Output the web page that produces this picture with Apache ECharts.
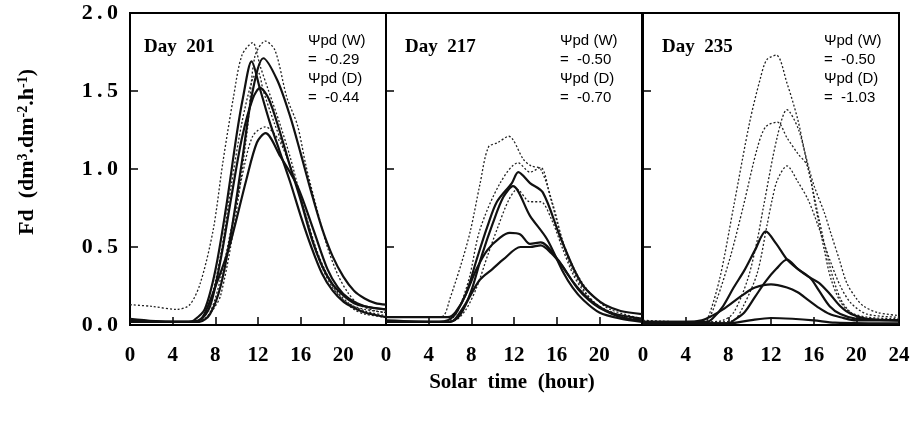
<!DOCTYPE html>
<html>
<head>
<meta charset="utf-8">
<script src="https://cdn.jsdelivr.net/npm/echarts@6/dist/echarts.min.js"></script>
<style>
  html, body { margin: 0; padding: 0; background: #fff; }
  #chart { width: 913px; height: 422px; }
</style>
</head>
<body>
<div id="chart"></div>
<script>
// tick labels
const hourTicks = [0, 4, 8, 12, 16, 20, 24]
const panelNames = ['Day  201', 'Day  217', 'Day  235']
const psiW = ['-0.29', '-0.50', '-0.50']
const psiD = ['-0.44', '-0.70', '-1.03']

// Day 201 : [hour, Fd]
const d201_w1 = [[0,0.13],[2,0.12],[4.4,0.10],[5.6,0.13],[6.6,0.27],[7.8,0.61],[8.7,1.04],[9.7,1.46],[10.5,1.73],[11.5,1.81],[12.2,1.66],[13,1.5],[14,1.3],[15,1.08],[16,0.82],[17,0.57],[18,0.37],[19,0.24],[20,0.16],[21,0.12],[22,0.1],[24,0.08]]
const d201_w2 = [[0,0.03],[4,0.02],[6,0.02],[7,0.04],[7.8,0.1],[8.5,0.19],[9.7,0.61],[11,1.25],[11.7,1.72],[12.7,1.82],[13.6,1.76],[14.7,1.46],[15.7,1.28],[16.5,1.02],[17.5,0.75],[18.5,0.5],[19.5,0.32],[20.5,0.2],[21.5,0.13],[23,0.09],[24,0.08]]
const d201_w3 = [[0,0.02],[5,0.02],[6.5,0.02],[7.5,0.08],[8.5,0.3],[9.5,0.62],[10.5,0.95],[11.5,1.21],[12.7,1.27],[14,1.18],[15,1.02],[16,0.82],[17,0.58],[18,0.38],[19,0.25],[20,0.16],[21,0.1],[22,0.07],[24,0.05]]
const d201_w4 = [[0,0.02],[5,0.02],[6.5,0.03],[7.5,0.15],[8.5,0.45],[9.5,0.9],[10.5,1.3],[11.5,1.58],[12,1.62],[12.5,1.5],[13.5,1.3],[14.5,1.12],[15.5,0.92],[16.5,0.7],[17.5,0.48],[18.5,0.32],[19.5,0.21],[20.5,0.14],[22,0.09],[24,0.06]]
const d201_d1 = [[0,0.04],[4,0.02],[5.5,0.02],[6,0.03],[7,0.1],[8,0.35],[9,0.75],[10,1.22],[10.6,1.46],[11.4,1.69],[12.2,1.51],[13.1,1.3],[14,1.12],[15,0.92],[16,0.7],[17,0.5],[18,0.33],[19,0.22],[20,0.15],[21,0.11],[22,0.08],[24,0.05]]
const d201_d2 = [[0,0.03],[4,0.02],[6.5,0.02],[7.5,0.07],[8.5,0.25],[9.5,0.6],[10.5,1.05],[11.5,1.5],[12.5,1.71],[13.8,1.57],[15,1.34],[16,1.1],[17,0.85],[18,0.62],[19,0.44],[20,0.31],[21,0.22],[22,0.17],[23,0.14],[24,0.13]]
const d201_d3 = [[0,0.02],[5,0.02],[6.5,0.03],[7.5,0.12],[8.5,0.42],[9.5,0.82],[10.5,1.2],[11.5,1.45],[12.2,1.52],[13,1.45],[14,1.25],[15,1.02],[16,0.8],[17,0.56],[18,0.38],[19,0.26],[20,0.19],[21,0.14],[22,0.12],[24,0.1]]
const d201_d4 = [[0,0.03],[5,0.02],[6,0.02],[6.8,0.05],[7.7,0.19],[9.3,0.5],[10.9,0.93],[11.9,1.17],[12.7,1.23],[14.1,1.08],[15.7,0.89],[17.2,0.61],[18.5,0.36],[19.5,0.24],[20.5,0.17],[22,0.12],[24,0.1]]

// Day 217
const d217_w1 = [[0,0.05],[4.5,0.05],[5.4,0.06],[6,0.17],[7,0.38],[7.9,0.6],[8.8,0.9],[9.6,1.14],[10.5,1.17],[11.5,1.21],[12.9,1.06],[13.6,1.02],[14.5,1.0],[15.7,0.76],[16.5,0.55],[17.3,0.38],[18.9,0.19],[20,0.12],[22,0.06],[24,0.03]]
const d217_w2 = [[0,0.02],[5,0.02],[6,0.03],[6.8,0.1],[7.8,0.3],[8.8,0.61],[10.7,0.91],[12.4,1.04],[13.5,0.98],[14.5,1.01],[15.4,0.82],[16.5,0.55],[17.5,0.38],[18.5,0.26],[19.5,0.18],[21,0.1],[24,0.04]]
const d217_w3 = [[0,0.02],[5,0.02],[6.5,0.03],[7.5,0.1],[8.5,0.24],[9.5,0.44],[10.5,0.63],[11.5,0.8],[12.3,0.87],[13.5,0.79],[14.5,0.79],[15.5,0.68],[16.5,0.5],[17.5,0.33],[18.5,0.22],[20,0.12],[22,0.06],[24,0.03]]
const d217_d1 = [[0,0.05],[5,0.05],[5.8,0.05],[6.5,0.08],[7.5,0.2],[8.5,0.42],[9.5,0.63],[10.4,0.79],[11.8,0.91],[12.4,0.98],[13.5,0.91],[14.7,0.85],[16.3,0.57],[17.6,0.36],[18.5,0.25],[19.5,0.18],[20.5,0.13],[22,0.09],[24,0.07]]
const d217_d2 = [[0,0.02],[6,0.02],[7,0.07],[8,0.22],[9,0.45],[10,0.65],[11,0.82],[11.9,0.89],[13.5,0.7],[15.1,0.55],[16.6,0.34],[17.5,0.24],[18.5,0.16],[20,0.08],[22,0.04],[24,0.02]]
const d217_d3 = [[0,0.03],[5,0.02],[5.8,0.03],[6.5,0.07],[7.5,0.2],[8.5,0.36],[9.5,0.48],[10.7,0.56],[11.6,0.59],[12.6,0.58],[13.5,0.52],[14.5,0.53],[16.1,0.42],[17,0.33],[18,0.23],[19,0.16],[20,0.11],[22,0.05],[24,0.03]]
const d217_d4 = [[0,0.02],[6,0.02],[6.5,0.04],[7.5,0.14],[8.8,0.29],[10,0.36],[11,0.42],[12.6,0.5],[13.5,0.5],[14.5,0.51],[15.5,0.46],[16.5,0.38],[17.5,0.28],[18.5,0.2],[19.5,0.14],[21,0.08],[23,0.05],[24,0.04]]

// Day 235
const d235_w1 = [[0,0.03],[4,0.02],[5.5,0.02],[6,0.03],[7.2,0.3],[8.5,0.76],[10,1.3],[11,1.58],[11.6,1.7],[12.5,1.73],[13.5,1.55],[14.5,1.32],[15.2,1.1],[16,0.9],[17,0.72],[17.6,0.59],[18.4,0.42],[19.1,0.27],[20,0.17],[20.7,0.12],[22,0.08],[24,0.06]]
const d235_w2 = [[0,0.02],[5,0.02],[6,0.03],[6.9,0.16],[8.2,0.44],[9.4,0.76],[10.7,1.13],[11.5,1.27],[12.6,1.3],[13.5,1.2],[14.5,1.1],[15.4,1.02],[16.2,0.75],[17,0.48],[17.6,0.3],[18.5,0.15],[19.5,0.08],[21,0.05],[24,0.04]]
const d235_w3 = [[0,0.02],[6,0.02],[7.5,0.03],[8.5,0.08],[9.8,0.29],[10.7,0.54],[11.3,0.76],[12.6,1.21],[13.5,1.38],[14.6,1.25],[15.5,1.0],[16.5,0.68],[17.5,0.38],[18.5,0.17],[19.5,0.08],[21,0.04],[24,0.03]]
const d235_w4 = [[0,0.02],[7,0.02],[8.5,0.03],[9.4,0.12],[10.7,0.33],[11.6,0.63],[12.1,0.8],[12.6,0.93],[13.5,1.02],[14.5,0.92],[15.5,0.8],[16.5,0.62],[17.5,0.42],[18.5,0.25],[19.5,0.14],[21,0.07],[24,0.05]]
const d235_d1 = [[0,0.02],[6,0.02],[6.5,0.04],[7.5,0.12],[8.5,0.24],[9.5,0.35],[10.5,0.48],[11.5,0.6],[12.5,0.52],[13.5,0.42],[14.5,0.36],[15.7,0.3],[16.5,0.22],[17.5,0.12],[18.5,0.07],[20,0.04],[24,0.03]]
const d235_d2 = [[0,0.01],[8,0.01],[8.5,0.03],[9.5,0.08],[10.5,0.18],[11.5,0.28],[12.5,0.36],[13.5,0.42],[14.5,0.36],[15.5,0.31],[16.5,0.27],[17.5,0.2],[18.5,0.12],[19.5,0.07],[21,0.04],[24,0.03]]
const d235_d3 = [[0,0.02],[4,0.02],[5.5,0.03],[6.5,0.06],[7.5,0.1],[8.5,0.15],[9.5,0.2],[10.5,0.24],[12,0.26],[13.5,0.24],[14.5,0.21],[15.5,0.16],[16.5,0.11],[17.5,0.07],[18.5,0.05],[20,0.03],[24,0.03]]
const d235_d4 = [[0,0.01],[8,0.01],[10,0.03],[12,0.045],[14,0.04],[16,0.03],[18,0.015],[24,0.01]]

const panels = [
  { wet: [d201_w1, d201_w2, d201_w3, d201_w4], dry: [d201_d1, d201_d2, d201_d3, d201_d4] },
  { wet: [d217_w1, d217_w2, d217_w3], dry: [d217_d1, d217_d2, d217_d3, d217_d4] },
  { wet: [d235_w1, d235_w2, d235_w3, d235_w4], dry: [d235_d1, d235_d2, d235_d3, d235_d4] }
]

const serif = '"Liberation Serif", "Times New Roman", serif'
const sans = '"Liberation Sans", Arial, sans-serif'
const gridLeft = [130, 386, 643]
const gridW = 256

const chart = echarts.init(document.getElementById('chart'))

const grids = [], xAxes = [], yAxes = [], series = [], graphics = []

panels.forEach((p, i) => {
  grids.push({ left: gridLeft[i], top: 13, width: gridW, height: 312, show: true, borderColor: '#000', borderWidth: 2, containLabel: false })
  xAxes.push({
    gridIndex: i, type: 'value', min: 0, max: 24, interval: 4,
    axisLine: { lineStyle: { color: '#000', width: 2 } },
    axisTick: { inside: true, length: 8, lineStyle: { color: '#000', width: 1.5 } },
    axisLabel: {
      showMaxLabel: i === 2, margin: 20, color: '#000',
      fontFamily: serif, fontWeight: 'bold', fontSize: 21,
      formatter: v => hourTicks.includes(v) ? String(v) : ''
    },
    splitLine: { show: false }
  })
  yAxes.push({
    gridIndex: i, type: 'value', min: 0, max: 2, interval: 0.5,
    axisLine: { lineStyle: { color: '#000', width: 2 } },
    axisTick: { inside: true, length: 8, lineStyle: { color: '#000', width: 1.5 } },
    axisLabel: {
      show: i === 0, margin: 12, color: '#000',
      fontFamily: serif, fontWeight: 'bold', fontSize: 22,
      formatter: v => v.toFixed(1).split('').join('\u2009')
    },
    splitLine: { show: false }
  })
  p.wet.forEach(d => series.push({
    type: 'line', xAxisIndex: i, yAxisIndex: i, data: d, showSymbol: false, smooth: 0.3,
    lineStyle: { color: '#222', width: 1.3, type: [2, 2] }, z: 2
  }))
  p.dry.forEach(d => series.push({
    type: 'line', xAxisIndex: i, yAxisIndex: i, data: d, showSymbol: false, smooth: 0.3,
    lineStyle: { color: '#111', width: 2.2 }, z: 3
  }))

  const gx = gridLeft[i]
  graphics.push({ type: 'text', x: gx + (i === 0 ? 14 : 19), y: 47,
    style: { text: panelNames[i], fontFamily: serif, fontWeight: 'bold', fontSize: 19, fill: '#000', verticalAlign: 'middle' } })
  const tx = [308, 560, 824][i]
  const lines = ['\u03A8pd (W)', '=  ' + psiW[i], '\u03A8pd (D)', '=  ' + psiD[i]]
  lines.forEach((t, k) => graphics.push({ type: 'text', x: tx, y: 41 + k * 19,
    style: { text: t, fontFamily: sans, fontSize: 15, fill: '#000', verticalAlign: 'middle' } }))
})

graphics.push({
  type: 'text', x: 27, y: 152, rotation: Math.PI / 2,
  style: {
    text: 'Fd  (dm{sup|3}.dm{sup|-2}.h{sup|-1})',
    fontFamily: serif, fontWeight: 'bold', fontSize: 22, fill: '#000',
    align: 'center', verticalAlign: 'middle',
    rich: { sup: { fontFamily: serif, fontWeight: 'bold', fontSize: 14, verticalAlign: 'top', lineHeight: 22 } }
  }
})
graphics.push({
  type: 'text', x: 512, y: 383,
  style: { text: 'Solar  time  (hour)', fontFamily: serif, fontWeight: 'bold', fontSize: 21, fill: '#000', align: 'center', verticalAlign: 'middle' }
})

chart.setOption({
  animation: false,
  backgroundColor: '#fff',
  grid: grids,
  xAxis: xAxes,
  yAxis: yAxes,
  series: series,
  graphic: graphics
})
</script>
</body>
</html>
